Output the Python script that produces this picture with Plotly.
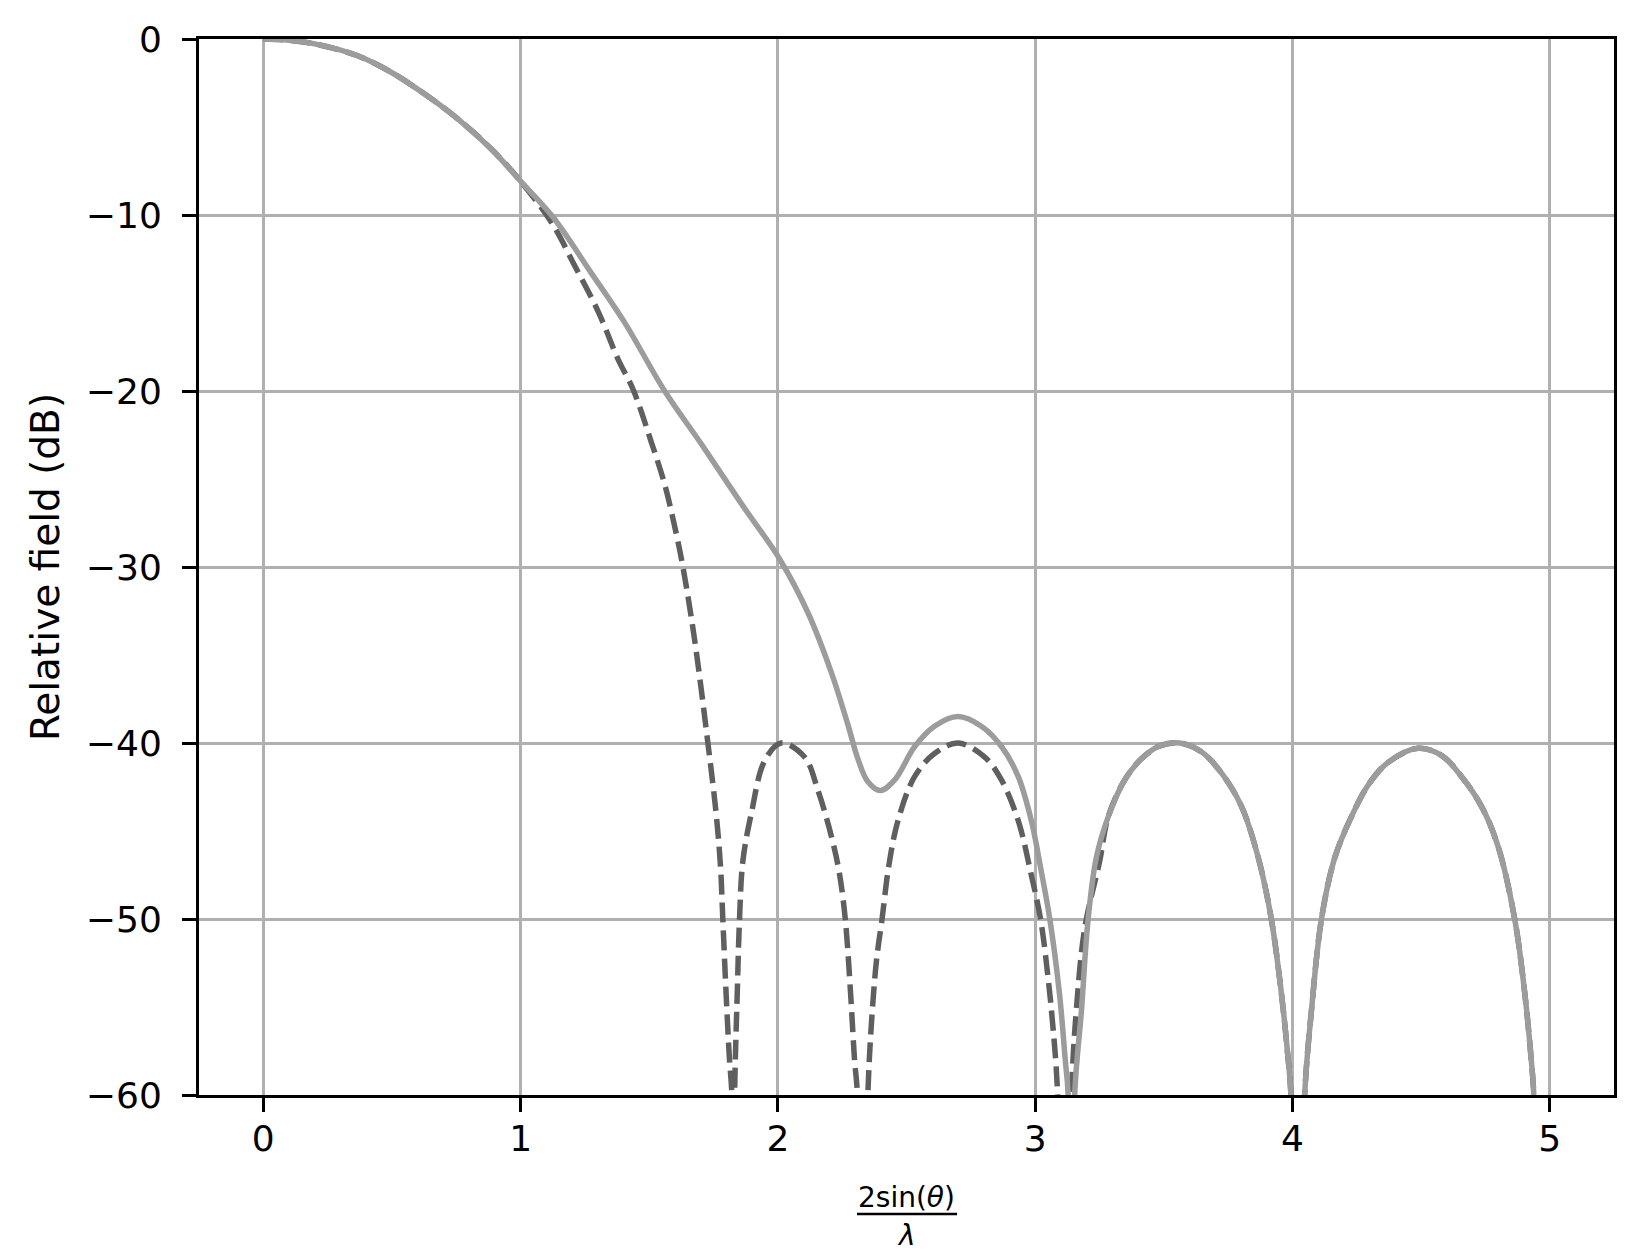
import plotly.graph_objects as go

# Relative field pattern (x = 2 sin(theta) / lambda, y in dB)
# nulls drop below the -60 dB floor, they are clipped by the axis range
dashed_x = [0.0, 0.1, 0.2, 0.367, 0.497, 0.627, 0.757, 0.886, 0.998,
            1.119, 1.211, 1.302, 1.379, 1.437, 1.508, 1.56, 1.596, 1.631,
            1.676, 1.728, 1.76, 1.777, 1.786, 1.799, 1.812, 1.821, 1.826,
            1.832, 1.842, 1.851, 1.864, 1.897, 1.949, 2.013, 2.104, 2.156,
            2.208, 2.238, 2.262, 2.283, 2.298, 2.309, 2.33, 2.35, 2.363,
            2.383, 2.405, 2.431, 2.467, 2.532, 2.609, 2.7, 2.804, 2.869,
            2.934, 2.985, 3.021, 3.05, 3.069, 3.086, 3.113, 3.141, 3.16,
            3.193, 3.251, 3.284, 3.348, 3.413, 3.479, 3.562, 3.646, 3.724,
            3.802, 3.867, 3.918, 3.957, 3.984, 3.994, 4.02, 4.048, 4.074,
            4.113, 4.165, 4.229, 4.294, 4.372, 4.489, 4.579, 4.657, 4.735,
            4.8, 4.864, 4.903, 4.929, 4.938, 4.965]
dashed_db = [0.0, -0.07, -0.28, -0.95, -1.89, -3.13, -4.55, -6.25, -8.05,
             -10.4, -12.9, -15.5, -18.2, -19.9, -22.9, -25.3, -27.5, -30.0,
             -34.1, -40.0, -44.0, -47.0, -50.0, -54.3, -58.0, -59.9, -75.0,
             -59.9, -54.3, -50.0, -46.7, -44.0, -41.0, -40.0, -40.8, -42.7,
             -45.3, -47.3, -50.0, -54.3, -58.0, -59.9, -75.0, -59.9, -56.1,
             -52.4, -50.0, -47.0, -44.4, -41.9, -40.6, -40.0, -40.8, -42.1,
             -44.4, -47.5, -50.0, -53.3, -56.1, -59.5, -75.0, -59.9, -55.2,
             -50.5, -46.7, -44.2, -42.1, -40.9, -40.2, -40.0, -40.5, -41.7,
             -43.6, -46.5, -50.0, -54.2, -58.05, -59.9, -75.0, -59.9, -55.2,
             -50.0, -46.5, -44.2, -42.4, -41.1, -40.3, -40.7, -41.9, -43.6,
             -45.9, -50.0, -54.2, -58.1, -59.9, -75.0]

solid_x = [0.0, 0.1, 0.2, 0.367, 0.497, 0.627, 0.757, 0.886, 0.998,
           1.125, 1.275, 1.404, 1.56, 1.702, 1.858, 2.009, 2.117, 2.208,
           2.273, 2.311, 2.35, 2.399, 2.454, 2.532, 2.609, 2.7, 2.791,
           2.869, 2.934, 2.985, 3.024, 3.057, 3.095, 3.117, 3.128, 3.14,
           3.154, 3.18, 3.206, 3.238, 3.284, 3.348, 3.413, 3.479, 3.562,
           3.646, 3.724, 3.802, 3.867, 3.918, 3.957, 3.984, 3.994, 4.02,
           4.048, 4.074, 4.113, 4.165, 4.229, 4.294, 4.372, 4.489, 4.579,
           4.657, 4.735, 4.8, 4.864, 4.903, 4.929, 4.938, 4.965]
solid_db = [0.0, -0.07, -0.28, -0.95, -1.89, -3.13, -4.55, -6.25, -8.05,
            -10.1, -13.3, -16.1, -20.0, -23.0, -26.4, -29.6, -32.6, -36.0,
            -39.0, -40.9, -42.2, -42.7, -42.1, -40.2, -39.05, -38.5, -39.05,
            -40.2, -41.9, -44.4, -47.3, -50.0, -54.3, -58.0, -59.9, -75.0,
            -59.9, -55.2, -50.0, -46.5, -44.2, -42.1, -40.9, -40.2, -40.0,
            -40.5, -41.7, -43.6, -46.5, -50.0, -54.2, -58.05, -59.9, -75.0,
            -59.9, -55.2, -50.0, -46.5, -44.2, -42.4, -41.1, -40.3, -40.7,
            -41.9, -43.6, -45.9, -50.0, -54.2, -58.1, -59.9, -75.0]

x_ticks = [0, 1, 2, 3, 4, 5]
y_ticks = [0, -10, -20, -30, -40, -50, -60]

fig = go.Figure()
fig.add_trace(go.Scatter(x=dashed_x, y=dashed_db, mode="lines",
                         line=dict(color="#5f5f5f", width=5.5, dash="20px,8px",
                                   shape="spline", smoothing=1.0)))
fig.add_trace(go.Scatter(x=solid_x, y=solid_db, mode="lines",
                         line=dict(color="#9c9c9c", width=5.5,
                                   shape="spline", smoothing=1.0)))

axis_style = dict(showgrid=True, gridcolor="#b0b0b0", gridwidth=2.5,
                  showline=True, linecolor="black", linewidth=3, mirror=True,
                  ticks="outside", ticklen=14, tickwidth=3, tickcolor="black",
                  zeroline=False, tickfont=dict(size=36, color="black"))

fig.update_xaxes(range=[-0.25, 5.25], tickvals=x_ticks, ticklabelstandoff=-4,
                 **axis_style)
fig.update_yaxes(range=[-60, 0], tickvals=y_ticks, ticklabelstandoff=13,
                 title=dict(text="Relative field (dB)", standoff=15,
                            font=dict(size=39, color="black")),
                 **axis_style)

# x label: 2 sin(theta) / lambda drawn as a stacked fraction
fig.add_annotation(text="2sin(<i>θ</i>)", xref="paper", yref="paper",
                   x=0.5, y=0, yanchor="middle", yshift=-102, showarrow=False,
                   font=dict(size=28, color="black"))
fig.add_annotation(text="<i>λ</i>", xref="paper", yref="paper",
                   x=0.5, y=0, yanchor="middle", yshift=-140, showarrow=False,
                   font=dict(size=28, color="black"))
fig.add_shape(type="line", xref="paper", yref="paper",
              x0=0.465, x1=0.5357, y0=-0.1127, y1=-0.1127,
              line=dict(color="black", width=2.5))

# page body keeps an 8px margin, so the figure is a bit smaller than the window
fig.update_layout(width=1626, height=1244,
                  margin=dict(l=191, r=20, t=31, b=157),
                  plot_bgcolor="white", paper_bgcolor="white",
                  showlegend=False,
                  font=dict(family="DejaVu Sans", size=36, color="black"))

fig.write_html("out.html")
